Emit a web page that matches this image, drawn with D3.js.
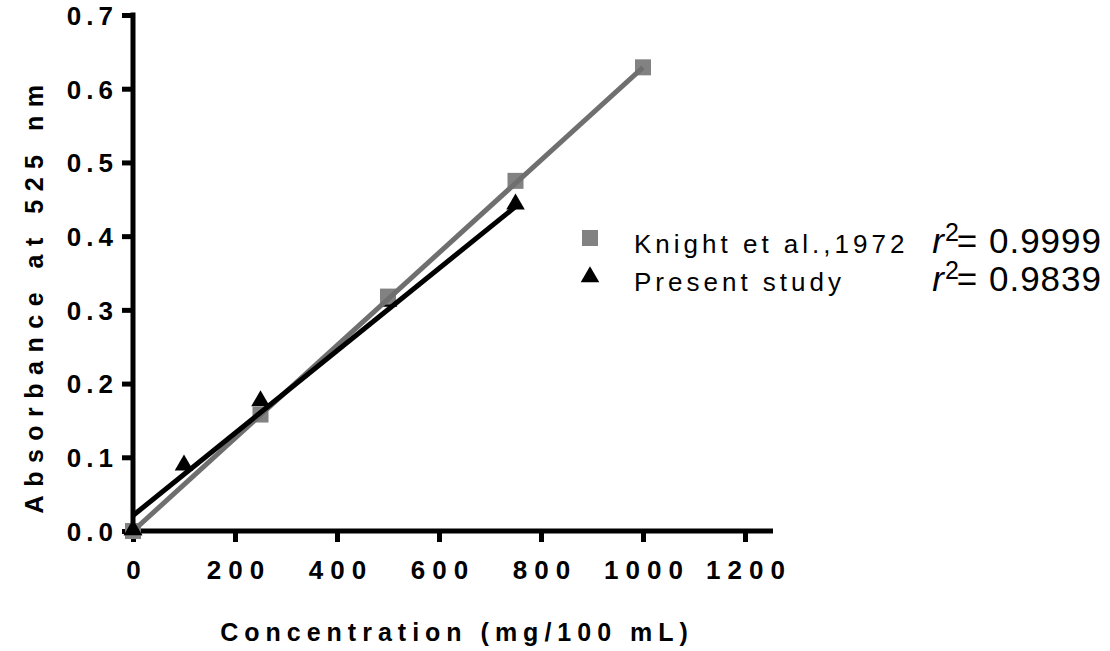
<!DOCTYPE html>
<html>
<head>
<meta charset="utf-8">
<script src="https://cdn.jsdelivr.net/npm/d3@7"></script>
<style>
  body { margin: 0; background: #fff; }
  text { font-family: "Liberation Sans", Arial, sans-serif; }
</style>
</head>
<body>
<div id="chart"></div>
<script>
// data
var knightX = [0, 250, 500, 750, 1000];
var knightY = [0, 0.158, 0.318, 0.475, 0.629];
var presentX = [0, 100, 250, 500, 750];
var presentY = [0, 0.088, 0.175, 0.31, 0.442];
// fitted lines (start / end)
var knightFit = [[0, 0.0], [1000, 0.629]];
var presentFit = [[0, 0.021], [750, 0.44]];
var xTicks = [0, 200, 400, 600, 800, 1000, 1200];
var yTicks = [0, 0.1, 0.2, 0.3, 0.4, 0.5, 0.6, 0.7];
var legendNames = ["Knight et al.,1972", "Present study"];
var r2Values = ["0.9999", "0.9839"];

var width = 1110, height = 651;
var gray = "#6f6f6f", grayMark = "#828282";

var x = d3.scaleLinear().domain([0, 1200]).range([133, 745]),
	y = d3.scaleLinear().domain([0, 0.7]).range([531, 15]);

var svg = d3.select("#chart")
	.append("svg")
	.attr("width", width)
	.attr("height", height);

// axes
var xAxis = svg.append("g")
	.attr("transform", "translate(0," + y(0) + ")")
	.call(d3.axisBottom(x).tickValues(xTicks).tickSize(11).tickPadding(19)
		.tickFormat(d3.format("d")));
var yAxis = svg.append("g")
	.attr("transform", "translate(" + x(0) + ",0)")
	.call(d3.axisLeft(y).tickValues(yTicks).tickSize(11).tickPadding(4)
		.tickFormat(d3.format(".1f")));

[xAxis, yAxis].forEach(function(g) {
	g.select(".domain").remove();
	g.selectAll(".tick line").attr("stroke", "#000").attr("stroke-width", 5);
	g.selectAll(".tick text")
		.attr("fill", "#000")
		.style("font-size", "26px")
		.style("font-weight", "bold");
});
yAxis.selectAll(".tick text").attr("dy", "0.36em").style("letter-spacing", "5px");
xAxis.selectAll(".tick text").attr("dx", "3.5px").style("letter-spacing", "7px");

svg.append("line")
	.attr("x1", x(0) - 2.5).attr("x2", 773)
	.attr("y1", y(0)).attr("y2", y(0))
	.attr("stroke", "#000").attr("stroke-width", 5);
svg.append("line")
	.attr("x1", x(0)).attr("x2", x(0))
	.attr("y1", y(0) + 2.5).attr("y2", y(0.7) - 2.5)
	.attr("stroke", "#000").attr("stroke-width", 5);

// axis titles
svg.append("text")
	.attr("x", 457).attr("y", 641)
	.attr("text-anchor", "middle")
	.style("font-size", "25px").style("font-weight", "bold")
	.style("letter-spacing", "6px")
	.text("Concentration (mg/100 mL)");
svg.append("text")
	.attr("transform", "translate(43,295) rotate(-90)")
	.attr("text-anchor", "middle")
	.style("font-size", "25px").style("font-weight", "bold")
	.style("letter-spacing", "8.5px")
	.text("Absorbance at 525 nm");

var line = d3.line()
	.x(function(d) { return x(d[0]); })
	.y(function(d) { return y(d[1]); });

var tri = d3.symbol().type(d3.symbolTriangle).size(150);

// triangles of the present study
svg.selectAll(".tri")
	.data(presentX)
	.enter().append("path")
	.attr("class", "tri")
	.attr("d", tri)
	.attr("fill", "#000")
	.attr("transform", function(d, i) { return "translate(" + x(d) + "," + (y(presentY[i]) - 1) + ")"; });

// squares of Knight
svg.selectAll(".sq")
	.data(knightX)
	.enter().append("rect")
	.attr("class", "sq")
	.attr("x", function(d) { return x(d) - 8; })
	.attr("y", function(d, i) { return y(knightY[i]) - 8; })
	.attr("width", 16).attr("height", 16)
	.attr("fill", grayMark);

svg.append("path")
	.datum(knightFit)
	.attr("d", line)
	.attr("fill", "none")
	.attr("stroke", gray)
	.attr("stroke-width", 5);
svg.append("path")
	.datum(presentFit)
	.attr("d", line)
	.attr("fill", "none")
	.attr("stroke", "#000")
	.attr("stroke-width", 5);

// triangle at 0 sits on top
svg.append("path")
	.attr("d", tri)
	.attr("fill", "#000")
	.attr("transform", "translate(" + x(presentX[0]) + "," + (y(presentY[0]) - 1) + ")");

// legend
var legend = svg.append("g");
legend.append("rect")
	.attr("x", 582).attr("y", 230).attr("width", 16).attr("height", 16)
	.attr("fill", grayMark);
legend.append("path")
	.attr("d", tri)
	.attr("fill", "#000")
	.attr("transform", "translate(590,277)");
legend.selectAll(".lab")
	.data(legendNames)
	.enter().append("text")
	.attr("x", 634)
	.attr("y", function(d, i) { return 253 + i * 38; })
	.style("font-size", "26px")
	.style("letter-spacing", "4px")
	.text(function(d) { return d; });

var r2 = legend.selectAll(".r2")
	.data(r2Values)
	.enter().append("text")
	.attr("x", 1102)
	.attr("y", function(d, i) { return 253 + i * 38; })
	.attr("text-anchor", "end")
	.style("font-size", "35px");
r2.append("tspan").style("font-style", "italic").text("r");
r2.append("tspan").attr("dy", -12).attr("dx", 1).style("font-size", "25px").text("2");
r2.append("tspan").attr("dy", 12).attr("dx", -2).style("letter-spacing", "1px").text(function(d) { return "= " + d; });
</script>
</body>
</html>
